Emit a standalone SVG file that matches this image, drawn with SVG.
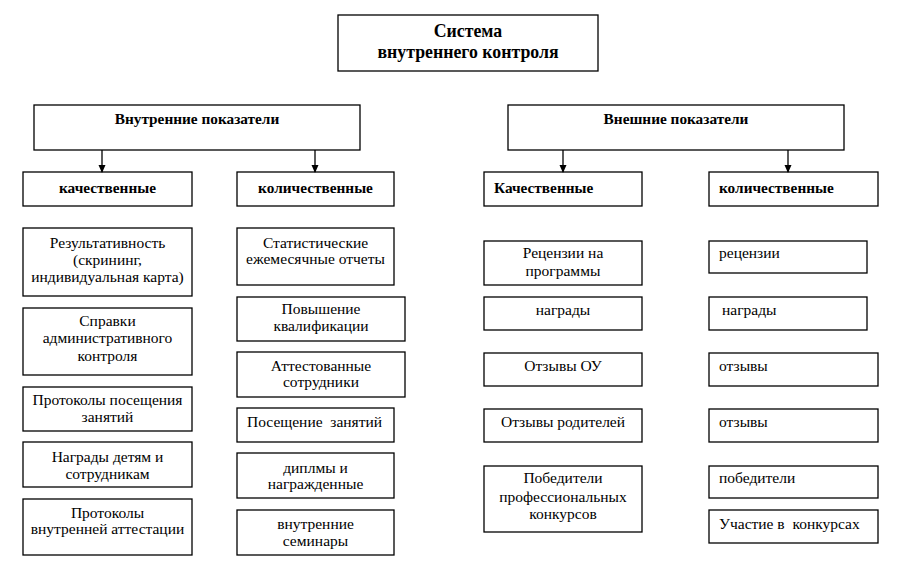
<svg xmlns="http://www.w3.org/2000/svg" width="897" height="568" viewBox="0 0 897 568">
<style>
rect{fill:#fff;stroke:#000;stroke-width:1.3}
text{font-size:15.5px;fill:#000}
.c{text-anchor:middle}
.b{font-weight:bold;font-size:15.3px}
.t{font-weight:bold;font-size:17.8px}
.con line{stroke:#000;stroke-width:1.3}
</style>
<defs>
<marker id="ah" markerWidth="8" markerHeight="8" refX="7" refY="4" orient="auto" markerUnits="userSpaceOnUse">
<path d="M0,0.5 L8,4 L0,7.5 Z" fill="#000"/>
</marker>
</defs>
<rect x="0" y="0" width="897" height="568" style="fill:#fff;stroke:none"/>
<g font-family="Liberation Serif">
<g id="root"><rect x="338" y="15" width="260" height="56"/><text class="c t" x="468" y="37">Система</text><text class="c t" x="468" y="58">внутреннего контроля</text></g>
<g id="int"><rect x="34" y="105" width="326" height="45"/><text class="c b" x="197" y="124">Внутренние показатели</text></g>
<g id="ext"><rect x="508" y="105" width="336" height="45"/><text class="c b" x="676" y="124">Внешние показатели</text></g>
<g id="int-q"><rect x="23" y="172" width="169" height="34"/><text class="c b" x="107.5" y="193">качественные</text></g>
<g id="int-n"><rect x="237" y="172" width="157" height="34"/><text class="c b" x="315.5" y="193">количественные</text></g>
<g id="ext-q"><rect x="484" y="172" width="158" height="34"/><text class="b" x="494" y="193">Качественные</text></g>
<g id="ext-n"><rect x="709" y="172" width="169" height="34"/><text class="b" x="719" y="193">количественные</text></g>
<g class="con" id="connectors">
<line x1="102" y1="150" x2="102" y2="172" marker-end="url(#ah)"/>
<line x1="315" y1="150" x2="315" y2="172" marker-end="url(#ah)"/>
<line x1="563" y1="150" x2="563" y2="172" marker-end="url(#ah)"/>
<line x1="788" y1="150" x2="788" y2="172" marker-end="url(#ah)"/>
</g>
<g id="a1"><rect x="23" y="228" width="169" height="68"/><text class="c" x="107.5" y="248">Результативность</text><text class="c" x="107.5" y="265">(скрининг,</text><text class="c" x="107.5" y="282">индивидуальная карта)</text></g>
<g id="a2"><rect x="23" y="308" width="169" height="67"/><text class="c" x="107.5" y="326">Справки</text><text class="c" x="107.5" y="343">административного</text><text class="c" x="107.5" y="361">контроля</text></g>
<g id="a3"><rect x="23" y="387" width="169" height="44"/><text class="c" x="107.5" y="405">Протоколы посещения</text><text class="c" x="107.5" y="422">занятий</text></g>
<g id="a4"><rect x="23" y="442" width="169" height="45"/><text class="c" x="107.5" y="462">Награды детям и</text><text class="c" x="107.5" y="479">сотрудникам</text></g>
<g id="a5"><rect x="23" y="499" width="169" height="56"/><text class="c" x="107.5" y="518">Протоколы</text><text class="c" x="107.5" y="534">внутренней аттестации</text></g>
<g id="b1"><rect x="237" y="228" width="157" height="57"/><text class="c" x="315.5" y="248">Статистические</text><text class="c" x="315.5" y="264">ежемесячные отчеты</text></g>
<g id="b2"><rect x="237" y="297" width="168" height="44"/><text class="c" x="321" y="314">Повышение</text><text class="c" x="321" y="331">квалификации</text></g>
<g id="b3"><rect x="237" y="352" width="168" height="45"/><text class="c" x="321" y="371">Аттестованные</text><text class="c" x="321" y="387">сотрудники</text></g>
<g id="b4"><rect x="237" y="408" width="157" height="34"/><text x="247" y="427" xml:space="preserve">Посещение  занятий</text></g>
<g id="b5"><rect x="237" y="453" width="157" height="45"/><text class="c" x="315.5" y="473">диплмы и</text><text class="c" x="315.5" y="489">награжденные</text></g>
<g id="b6"><rect x="237" y="510" width="157" height="45"/><text class="c" x="315.5" y="529">внутренние</text><text class="c" x="315.5" y="546">семинары</text></g>
<g id="c1"><rect x="484" y="241" width="158" height="44"/><text class="c" x="563" y="258">Рецензии на</text><text class="c" x="563" y="276">программы</text></g>
<g id="c2"><rect x="484" y="297" width="158" height="33"/><text class="c" x="563" y="315">награды</text></g>
<g id="c3"><rect x="484" y="353" width="158" height="33"/><text class="c" x="563" y="371">Отзывы ОУ</text></g>
<g id="c4"><rect x="484" y="409" width="158" height="33"/><text class="c" x="563" y="427">Отзывы родителей</text></g>
<g id="c5"><rect x="484" y="466" width="158" height="66"/><text class="c" x="563" y="483">Победители</text><text class="c" x="563" y="502">профессиональных</text><text class="c" x="563" y="519">конкурсов</text></g>
<g id="d1"><rect x="709" y="241" width="158" height="32"/><text x="719" y="258">рецензии</text></g>
<g id="d2"><rect x="709" y="297" width="158" height="33"/><text x="722" y="315">награды</text></g>
<g id="d3"><rect x="709" y="353" width="169" height="33"/><text x="719" y="371">отзывы</text></g>
<g id="d4"><rect x="709" y="409" width="169" height="33"/><text x="719" y="427">отзывы</text></g>
<g id="d5"><rect x="709" y="466" width="169" height="32"/><text x="719" y="483">победители</text></g>
<g id="d6"><rect x="709" y="510" width="169" height="33"/><text x="719" y="529" xml:space="preserve">Участие в  конкурсах</text></g>
</g>
</svg>
